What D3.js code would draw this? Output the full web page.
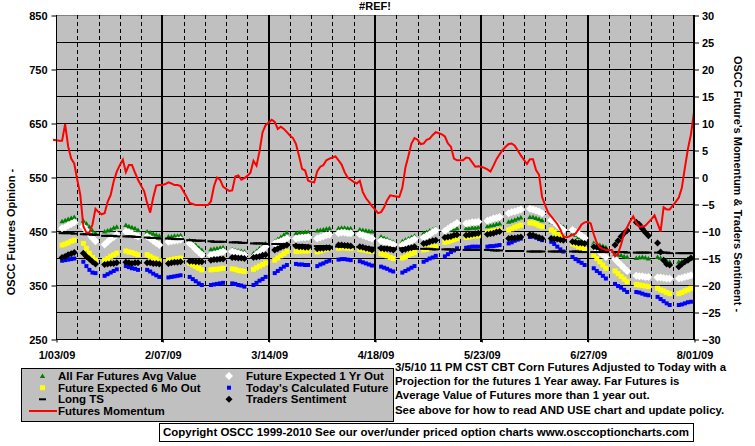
<!DOCTYPE html>
<html><head><meta charset="utf-8">
<script src="https://cdn.jsdelivr.net/npm/d3@7/dist/d3.min.js"></script>
<style>
body{margin:0;background:#fff;}
svg text{font-family:"Liberation Sans",Arial,sans-serif;font-weight:bold;fill:#000;}
</style></head><body>
<svg id="c" width="755" height="446"></svg>
<script>
// ---------- DATA ----------
const chartTitle = "#REF!";
const xTickLabels = ["1/03/09","2/07/09","3/14/09","4/18/09","5/23/09","6/27/09","8/01/09"];
const leftTicks = [250,350,450,550,650,750,850];
const rightTicks = [-30,-25,-20,-15,-10,-5,0,5,10,15,20,25,30];
const firstTradingDay = "2009-01-05", lastTradingDay = "2009-07-31";
const momentumStart = "2009-01-02";

// Futures Momentum (right axis), one value per calendar day from 1/02/09
const momentum = [
 6.9,6.8,6.7,6.7,9.8,5.7,3.4,2.5,-0.5,-3.3,
 -9.1,-10.3,-10.3,-8.8,-5.9,-6.5,-6.9,-6.7,-4.6,-3.3,
 -0.8,1.0,2.2,3.2,0.9,2.2,2.2,0.8,-0.5,-1.6,
 -2.6,-4.8,-6.6,-3.8,-1.6,-1.5,-1.5,-1.3,-1.0,-1.2,
 -1.5,-1.5,-1.7,-2.7,-3.7,-4.8,-5.0,-5.2,-5.2,-5.2,
 -5.2,-5.2,-4.5,-1.7,-0.1,-0.5,-1.8,-2.2,-2.6,-2.5,
 0.1,0.3,-0.5,-0.2,0.2,0.8,3.0,2.1,4.8,8.3,
 9.6,10.1,10.6,10.2,8.9,9.3,8.9,8.3,7.7,7.2,
 6.1,3.9,1.5,1.2,-0.7,-0.9,-1.0,1.1,1.9,2.2,
 3.1,3.4,3.6,3.8,3.1,2.3,0.9,-0.1,-0.5,-0.9,
 -1.2,-0.7,-2.8,-3.9,-4.6,-5.4,-6.0,-6.7,-6.5,-5.6,
 -4.3,-3.4,-3.5,-3.6,-3.7,-2.0,1.7,3.9,6.2,7.2,
 6.9,6.1,6.2,6.9,7.1,7.8,8.3,8.1,7.9,7.5,
 6.2,5.6,3.4,3.1,3.1,3.1,3.6,3.5,2.7,1.9,
 2.0,1.9,1.7,1.4,1.0,2.1,3.3,4.2,5.0,5.6,
 6.1,6.2,5.8,4.9,4.0,3.2,2.4,3.3,3.3,1.3,
 0.4,-3.7,-5.2,-6.6,-7.3,-8.0,-8.7,-9.7,-11.0,-11.2,
 -11.0,-10.7,-10.5,-9.7,-8.8,-8.4,-8.3,-8.6,-10.6,-12.2,
 -13.0,-13.3,-13.5,-13.5,-13.5,-14.7,-14.2,-12.5,-10.4,-9.3,
 -8.2,-7.3,-8.5,-9.2,-9.2,-9.0,-8.4,-7.8,-7.1,-8.6,
 -10.1,-5.6,-6.0,-6.0,-5.3,-4.6,-3.8,-2.0,1.7,5.2,
 7.9,12.0
];

// Trading-day series (Mon-Fri, 1/05/09 - 7/31/09), five values per week
const allFarFuturesAvg = [
 468,470,472,474,476, 469,464,458,451,446, 449,451,453,456,458, 461,459,457,455,452,
 449,447,445,443,441, 440,440,441,441,442, 433,428,424,419,415, 416,417,418,419,420,
 416,415,414,413,412, 409,413,418,422,427, 431,435,439,443,447, 446,447,447,448,448,
 451,452,453,454,455, 455,456,456,455,455, 453,452,451,450,449, 440,437,435,432,430,
 431,434,436,439,441, 446,448,451,453,455, 451,452,453,454,455, 455,455,456,456,457,
 459,460,461,463,464, 467,469,471,473,475, 476,476,474,472,470, 467,465,463,460,458,
 446,443,439,435,432, 428,426,424,422,420, 408,406,405,403,402, 400,401,402,401,399,
 402,400,398,395,393, 393,394,396,398,399
];
const futureExpected1Yr = [
 455,457,460,463,466, 458,451,444,437,431, 425,430,435,439,443, 449,447,445,442,440,
 440,436,432,428,424, 430,431,432,433,434, 427,422,416,411,406, 405,407,408,410,412,
 412,410,409,407,406, 402,407,411,416,421, 427,429,431,434,436, 436,437,438,438,439,
 436,438,440,442,443, 446,447,447,446,446, 444,442,440,438,436, 432,430,429,427,425,
 424,427,430,432,435, 438,441,444,448,451, 450,454,458,461,465, 464,465,466,466,467,
 469,471,473,474,476, 483,485,486,488,490, 491,490,488,486,483, 470,466,461,456,452,
 452,448,445,441,437, 421,416,411,406,402, 398,392,387,381,376, 367,366,366,365,365,
 364,364,363,362,362, 362,363,365,366,368
];
const futureExpected6Mo = [
 424,426,428,431,433, 427,418,409,401,396, 396,399,403,406,409, 413,411,410,408,406,
 406,403,400,398,395, 396,397,398,399,400, 390,387,384,381,378, 378,379,379,380,381,
 380,379,377,376,375, 379,382,385,388,391, 396,400,404,408,412, 412,412,413,413,413,
 411,413,415,416,418, 418,419,419,418,418, 416,415,414,413,412, 408,406,404,401,399,
 400,402,405,408,410, 415,416,418,420,421, 429,430,432,434,436, 438,439,440,441,441,
 448,449,450,451,452, 452,454,457,459,461, 465,465,463,460,458, 452,448,444,440,436,
 426,424,421,419,416, 405,399,393,387,381, 376,371,366,361,356, 351,350,349,348,347,
 344,341,339,336,334, 334,336,339,341,344
];
const todaysCalculatedFuture = [
 395,396,397,398,399, 393,385,378,373,372, 367,370,373,376,379, 385,383,381,380,378,
 378,375,371,368,365, 364,365,366,367,368, 365,361,357,353,350, 350,351,352,353,354,
 353,352,350,349,347, 350,354,358,361,365, 372,376,380,384,387, 389,388,388,387,387,
 385,388,390,393,395, 397,398,398,397,396, 394,392,390,388,386, 384,382,380,377,375,
 373,376,379,382,385, 393,396,399,401,404, 403,407,411,414,418, 419,420,421,421,421,
 421,422,422,423,424, 427,429,432,434,436, 439,440,438,435,433, 430,426,421,416,412,
 402,398,394,391,387, 381,376,372,367,362, 352,348,345,341,337, 337,336,334,332,331,
 328,324,320,316,313, 313,314,316,318,319
];
const longTS = [
 446,446,446,446,445, 444,444,444,443,443, 441,441,441,441,440, 440,440,440,439,439,
 438,437,437,437,436, 436,436,435,435,435, 433,433,432,432,432, 431,430,430,430,430,
 429,429,429,428,428, 427,427,427,427,426, 426,426,426,425,425, 424,424,424,423,423,
 422,422,422,422,421, 421,421,421,420,420, 420,420,420,419,419, 419,419,419,418,418,
 418,418,418,417,417, 417,417,417,416,416, 416,416,416,415,415, 415,415,415,415,415,
 415,415,414,414,414, 413,413,413,413,413, 412,412,412,412,412, 412,412,412,412,412,
 412,412,412,411,411, 411,411,411,411,411, 411,411,411,411,410, 410,410,410,410,410,
 410,410,410,410,409, 409,409,409,409,409
];
const tradersSentiment = [
 -14.9,-14.7,-14.4,-14.2,-14.0, -14.1,-14.7,-15.2,-15.7,-16.1, -16.2,-16.1,-16.0,-16.0,-15.9,
 -15.8,-15.9,-16.0,-15.9,-15.9, -15.9,-15.9,-16.0,-16.0,-16.1, -16.0,-15.9,-15.8,-15.8,-15.7,
 -15.6,-15.6,-15.7,-15.7,-15.7, -15.4,-15.3,-15.3,-15.2,-15.2, -14.9,-14.9,-15.0,-15.0,-15.1,
 -14.9,-14.8,-14.7,-14.5,-14.4, -13.5,-13.3,-13.0,-12.8,-12.6, -12.8,-12.9,-12.9,-13.0,-13.0,
 -13.3,-13.2,-13.2,-13.1,-13.1, -12.6,-12.6,-12.7,-12.7,-12.8, -12.9,-13.0,-13.2,-13.3,-13.5,
 -13.2,-13.3,-13.3,-13.4,-13.5, -13.5,-13.4,-13.2,-13.1,-12.9, -12.3,-12.2,-12.0,-11.8,-11.7,
 -11.2,-11.1,-11.0,-10.8,-10.7, -10.8,-10.7,-10.6,-10.5,-10.4, -10.6,-10.5,-10.4,-10.2,-10.1,
 -11.4,-11.3,-11.3,-11.2,-11.1, -10.7,-10.8,-11.0,-11.2,-11.4, -11.4,-11.5,-11.5,-11.6,-11.7,
 -12.0,-12.1,-12.2,-12.2,-12.3, -12.9,-13.0,-13.2,-13.3,-13.5, -12.6,-11.8,-11.0,-10.4,-9.9,
 -8.4,-8.8,-9.6,-10.3,-10.9, -12.2,-13.9,-15.4,-16.1,-16.3, -16.6,-16.1,-15.7,-15.4,-15.0
];

const legendNames = ["All Far Futures Avg Value","Future Expected 1 Yr Out","Future Expected 6 Mo Out",
  "Today's Calculated Future","Long TS","Traders Sentiment","Futures Momentum"];
const noteLines = ["3/5/10 11 PM CST CBT Corn Futures Adjusted to Today with a",
  "Projection for the futures 1 Year away. Far Futures is",
  "Average Value of Futures more than 1 year out.",
  "See above for how to read AND USE chart and update policy."];
const copyright = "Copyright OSCC 1999-2010 See our over/under priced option charts www.osccoptioncharts.com";
const leftTitle = "OSCC Futures Opinion -";
const rightTitle = "OSCC Future's Momentum & Traders Sentiment -";

// ---------- CHART ----------
const svg = d3.select("#c");
const P = {l:56, r:694, t:15, b:339};
const parse = d3.utcParse("%Y-%m-%d");
const x = d3.scaleUtc().domain([parse("2009-01-03"), parse("2009-08-01")]).range([P.l, P.r]);
const yL = d3.scaleLinear().domain([250,850]).range([P.b, P.t]);
const yR = d3.scaleLinear().domain([-30,30]).range([P.b, P.t]);

const tradingDays = d3.utcDay.range(parse(firstTradingDay), d3.utcDay.offset(parse(lastTradingDay),1))
  .filter(d => d.getUTCDay() !== 0 && d.getUTCDay() !== 6);
const calDays = d3.utcDay.range(parse(momentumStart), d3.utcDay.offset(parse(momentumStart), momentum.length));

// plot background
svg.append("rect").attr("x",P.l).attr("y",P.t).attr("width",P.r-P.l).attr("height",P.b-P.t).attr("fill","#C0C0C0");

// horizontal gridlines
svg.append("g").selectAll("line").data(rightTicks.filter(v => v>-30 && v<30)).join("line")
  .attr("x1",P.l).attr("x2",P.r).attr("y1",d=>yR(d)+0.5).attr("y2",d=>yR(d)+0.5)
  .attr("stroke","#000").attr("stroke-width",1);
svg.append("line").attr("x1",P.l).attr("x2",P.r).attr("y1",P.t+0.5).attr("y2",P.t+0.5).attr("stroke","#808080");

// vertical gridlines
const weeks = d3.utcSaturday.range(parse("2009-01-04"), parse("2009-08-01"));
const majorDates = xTickLabels.map(s => { const [m,d,y] = s.split("/"); return new Date(Date.UTC(2000+ +y, +m-1, +d)); });
const isMajor = d => majorDates.some(m => +m === +d);
svg.append("g").selectAll("line").data(weeks.filter(d => !isMajor(d))).join("line")
  .attr("x1",d=>Math.round(x(d))+0.5).attr("x2",d=>Math.round(x(d))+0.5).attr("y1",P.t).attr("y2",P.b)
  .attr("stroke","#000").attr("stroke-dasharray","4,3");
svg.append("g").selectAll("line").data(majorDates.slice(1,-1)).join("line")
  .attr("x1",d=>Math.round(x(d))).attr("x2",d=>Math.round(x(d))).attr("y1",P.t).attr("y2",P.b+3)
  .attr("stroke","#000").attr("stroke-width",2);

// markers
const gData = (arr) => arr.map((v,i) => ({d: tradingDays[i], v}));
function drawSymbols(arr, scale, pathStr, fill){
  svg.append("g").selectAll("path").data(gData(arr)).join("path")
    .attr("transform", p => `translate(${x(p.d)},${scale(p.v)})`)
    .attr("d", pathStr).attr("fill", fill);
}
const triPath = "M0,-2.5L2.7,2L-2.7,2Z";
const whiteDia = "M0,-4L4,0L0,4L-4,0Z";
const yelSq = "M-2.5,-2.5H2.5V2.5H-2.5Z";
const bluSq = "M-2,-2H2V2H-2Z";
const dash = "M-3.5,-1H3.5V1H-3.5Z";
const blkDia = "M0,-3.5L3.5,0L0,3.5L-3.5,0Z";
drawSymbols(allFarFuturesAvg, yL, triPath, "#008000");
drawSymbols(futureExpected1Yr, yL, whiteDia, "#FFFFFF");
drawSymbols(futureExpected6Mo, yL, yelSq, "#FFFF00");
drawSymbols(todaysCalculatedFuture, yL, bluSq, "#0000FF");
drawSymbols(longTS, yL, dash, "#000000");
drawSymbols(tradersSentiment, yR, blkDia, "#000000");

// momentum line
const line = d3.line().x((v,i)=>x(calDays[i])).y(v=>yR(v));
svg.append("path").datum(momentum).attr("d", line).attr("fill","none").attr("stroke","#FF0000").attr("stroke-width",2);

// axes frame lines
svg.append("line").attr("x1",P.l+0.5).attr("x2",P.l+0.5).attr("y1",P.t).attr("y2",P.b).attr("stroke","#000");
svg.append("line").attr("x1",P.r).attr("x2",P.r).attr("y1",P.t).attr("y2",P.b+1).attr("stroke","#000").attr("stroke-width",2);
svg.append("line").attr("x1",P.l).attr("x2",P.r).attr("y1",P.b+0.5).attr("y2",P.b+0.5).attr("stroke","#000");

// axes
const fontSize = "11px";
const axL = svg.append("g").attr("transform",`translate(${P.l+0.5},0.5)`)
  .call(d3.axisLeft(yL).tickValues(leftTicks).tickSize(5).tickPadding(4).tickFormat(d3.format("d")));
const axR = svg.append("g").attr("transform",`translate(${P.r},0.5)`)
  .call(d3.axisRight(yR).tickValues(rightTicks).tickSize(5).tickPadding(3).tickFormat(d3.format("d")));
const axB = svg.append("g").attr("transform",`translate(0.5,${P.b+0.5})`)
  .call(d3.axisBottom(x).tickValues(majorDates).tickSize(3).tickPadding(9).tickFormat((d,i)=>xTickLabels[i]));
[axL,axR,axB].forEach(a => { a.select(".domain").remove(); a.selectAll("text").style("font-size",fontSize); a.attr("font-family",null).attr("font-size",null); });

// title
svg.append("text").attr("x",375).attr("y",10).attr("text-anchor","middle").style("font-size",fontSize).text(chartTitle);
// axis titles
svg.append("text").attr("transform","translate(15,232) rotate(-90)").attr("text-anchor","middle").style("font-size",fontSize).text(leftTitle);
svg.append("text").attr("transform","translate(734,184) rotate(90)").attr("text-anchor","middle").style("font-size",fontSize).text(rightTitle);

// legend
const lg = svg.append("g");
lg.append("rect").attr("x",21.5).attr("y",368.5).attr("width",372).attr("height",53).attr("fill","#C0C0C0").attr("stroke","#000");
const legendItems = [
  {name:legendNames[0], col:0,row:0, sym:triPath, fill:"#008000"},
  {name:legendNames[1], col:1,row:0, sym:whiteDia, fill:"#FFFFFF"},
  {name:legendNames[2], col:0,row:1, sym:yelSq, fill:"#FFFF00"},
  {name:legendNames[3], col:1,row:1, sym:bluSq, fill:"#0000FF"},
  {name:legendNames[4], col:0,row:2, sym:dash, fill:"#000"},
  {name:legendNames[5], col:1,row:2, sym:blkDia, fill:"#000"},
  {name:legendNames[6], col:0,row:3, sym:null, fill:"#FF0000"}
];
const colSym = [42.5, 229], colTxt = [58, 246], rowBase = [380, 391.7, 403.3, 415];
legendItems.forEach(it => {
  const cy = rowBase[it.row] - 4;
  if (it.sym) lg.append("path").attr("transform",`translate(${colSym[it.col]},${cy})`).attr("d",it.sym).attr("fill",it.fill);
  else lg.append("line").attr("x1",29).attr("x2",57).attr("y1",cy).attr("y2",cy).attr("stroke",it.fill).attr("stroke-width",2);
  lg.append("text").attr("x",colTxt[it.col]).attr("y",rowBase[it.row]).style("font-size","11.5px").text(it.name);
});

// note text
noteLines.forEach((t,i) => svg.append("text").attr("x",395).attr("y",371+i*14.2).style("font-size","11.4px").text(t));

// copyright
svg.append("rect").attr("x",159.5).attr("y",423.5).attr("width",534).attr("height",18).attr("fill","#fff").attr("stroke","#000");
svg.append("text").attr("x",426).attr("y",436).attr("text-anchor","middle").style("font-size","11.5px").text(copyright);
</script>
</body></html>
